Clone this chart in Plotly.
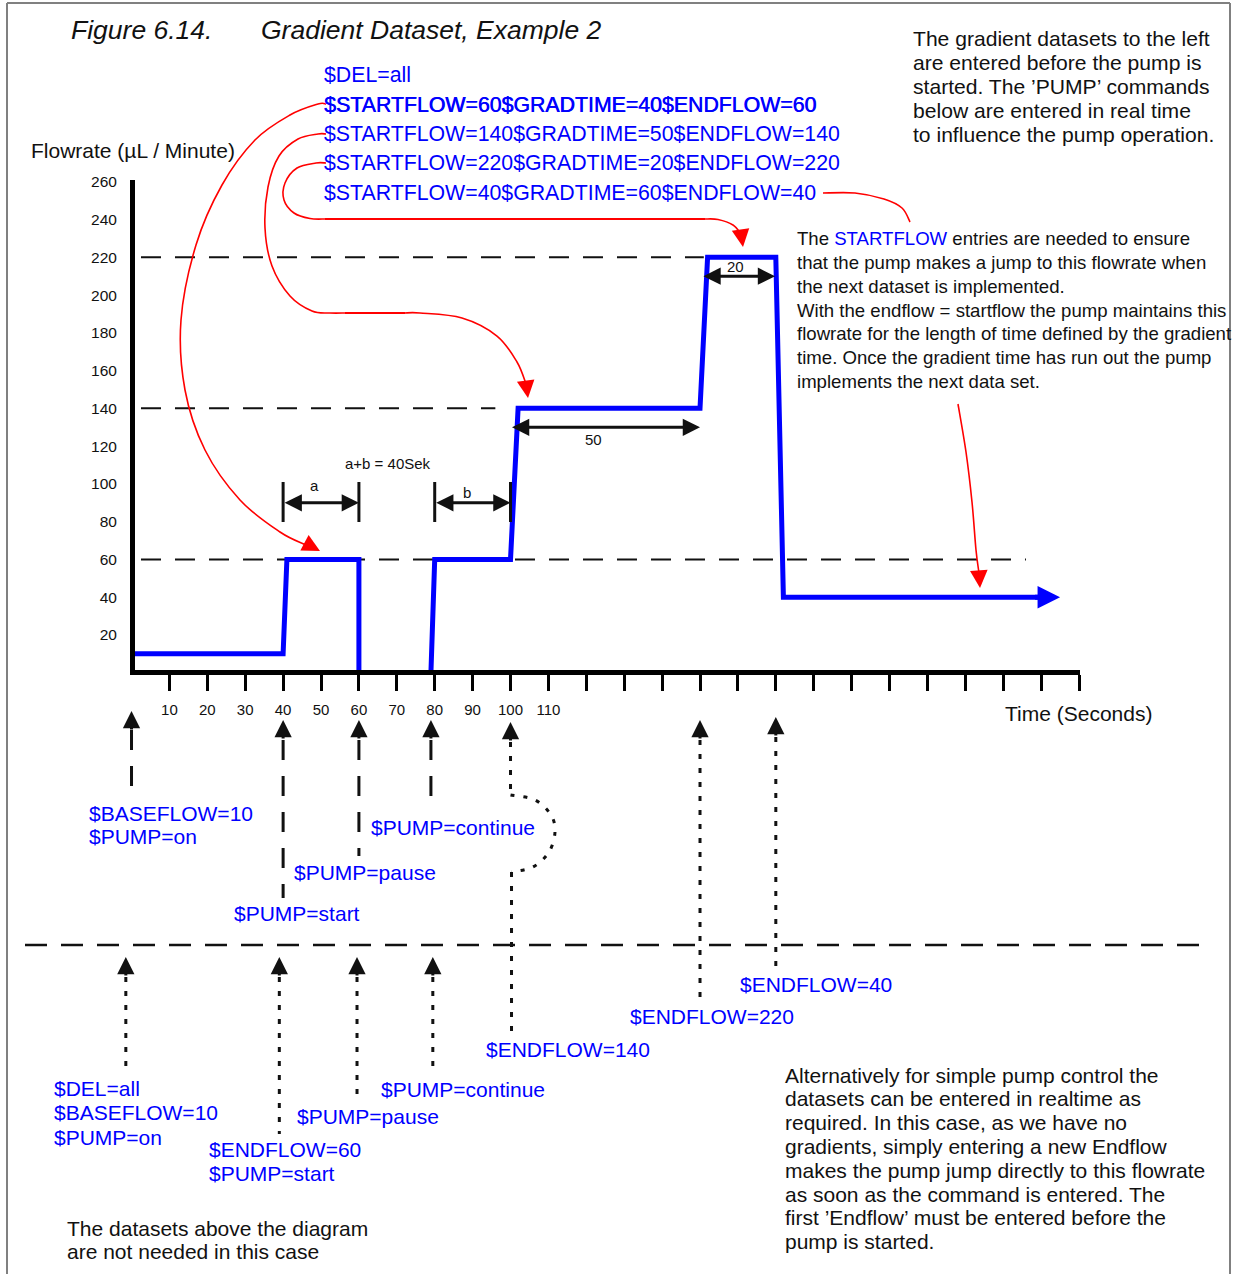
import plotly.graph_objects as go

# ---------------- data ----------------
flow_time = [0, 40, 41, 60, 60, None, 79, 80, 100, 102, 150, 152, 170, 172, 241]
flow_rate = [10, 10, 60, 60, 0, None, 0, 60, 60, 140, 140, 220, 220, 40, 40]
flow_arrow_tip = 245

ref_levels = [220, 140, 60]
ref_from = [2.5, 2.5, 2.5]
ref_to = [151, 96, 236]

y_tick_vals = [20, 40, 60, 80, 100, 120, 140, 160, 180, 200, 220, 240, 260]
x_tick_vals = list(range(10, 260, 10))
x_tick_text = [str(v) if v <= 110 else "" for v in x_tick_vals]

dim_from = [40, 80, 100, 150.5]
dim_to = [60, 100, 150, 169.8]
dim_level = [90, 90, 130, 210]
dim_text = ["a", "b", "50", "20"]
dim_text_x = [48.4, 88.5, 121.8, 159.4]
dim_text_y = [98.9, 95.2, 123.3, 215]
bar_times = [40, 60, 80, 100]
bar_low, bar_high = 79.8, 101
sum_text = "a+b = 40Sek"

top_commands = ["$DEL=all",
                "$STARTFLOW=60$GRADTIME=40$ENDFLOW=60",
                "$STARTFLOW=140$GRADTIME=50$ENDFLOW=140",
                "$STARTFLOW=220$GRADTIME=20$ENDFLOW=220",
                "$STARTFLOW=40$GRADTIME=60$ENDFLOW=40"]

note_top = ["The gradient datasets to the left",
            "are entered before the pump is",
            "started. The ’PUMP’ commands",
            "below are entered in real time",
            "to influence the pump operation."]

note_mid = ["The <span style='color:#0000ff'>STARTFLOW</span> entries are needed to ensure",
            "that the pump makes a jump to this flowrate when",
            "the next dataset is implemented.",
            "With the endflow = startflow the pump maintains this",
            "flowrate for the length of time defined by the gradient",
            "time. Once the gradient time has run out the pump",
            "implements the next data set."]

note_bottom = ["Alternatively for simple pump control the",
               "datasets can be entered in realtime as",
               "required. In this case, as we have no",
               "gradients, simply entering a new Endflow",
               "makes the pump jump directly to this flowrate",
               "as soon as the command is entered. The",
               "first ’Endflow’ must be entered before the",
               "pump is started."]

note_left = ["The datasets above the diagram", "are not needed in this case"]

upper_event_t = [0, 40, 60, 79, 100, 150, 170]
lower_event_t = [-1.5, 39, 59.5, 79.5]

# ---------------- geometry ----------------
W, H = 1234, 1274
L, R, T, B = 135, 1080, 180, 670
X_RANGE = [0.92, 250.26]
Y_RANGE = [1.43, 260.95]
PW, PH = R - L, B - T

BLUE = "#0000ff"
RED = "#ff0000"
BLACK = "#111111"
FONT = "Arial, 'Liberation Sans', Helvetica, sans-serif"


def xp(px):
    return (px - L) / PW


def yp(py):
    return (B - py) / PH


def t2px(t):
    return L + (t - X_RANGE[0]) / (X_RANGE[1] - X_RANGE[0]) * PW


fig = go.Figure()

fig.add_trace(go.Scatter(x=flow_time, y=flow_rate, mode="lines",
                         line=dict(color=BLUE, width=5), connectgaps=False,
                         hoverinfo="skip"))

shapes = []
annotations = []

# reference dashed lines
for lv, a, b in zip(ref_levels, ref_from, ref_to):
    shapes.append(dict(type="line", xref="x", yref="y", x0=a, x1=b, y0=lv, y1=lv,
                       line=dict(color=BLACK, width=2, dash="20px,14px"), layer="below"))

# dimension bars
for bt in bar_times:
    shapes.append(dict(type="line", xref="x", yref="y", x0=bt, x1=bt, y0=bar_low, y1=bar_high,
                       line=dict(color=BLACK, width=3)))

# dimension arrows
for a, b, lv, tx, xx, yy in zip(dim_from, dim_to, dim_level, dim_text, dim_text_x, dim_text_y):
    annotations.append(dict(x=b, y=lv, ax=a, ay=lv, xref="x", yref="y", axref="x", ayref="y",
                            showarrow=True, arrowhead=2, arrowside="end+start", arrowsize=1.15,
                            arrowwidth=3, arrowcolor=BLACK, text=""))
    annotations.append(dict(x=xx, y=yy, xref="x", yref="y", text=tx, showarrow=False,
                            font=dict(size=15, color=BLACK)))
annotations.append(dict(x=67.7, y=110.6, xref="x", yref="y", text=sum_text, showarrow=False,
                        font=dict(size=15, color=BLACK)))

# end arrow of the flow line
annotations.append(dict(x=flow_arrow_tip, y=flow_rate[-1], ax=flow_time[-1] - 3, ay=flow_rate[-1],
                        xref="x", yref="y", axref="x", ayref="y", showarrow=True,
                        arrowhead=2, arrowsize=0.9, arrowwidth=5, arrowcolor=BLUE, text=""))


def text(s, px, py, size=21, color=BLACK, shadow=None):
    f = dict(size=size, color=color, family=FONT)
    if shadow:
        f["shadow"] = shadow
    annotations.append(dict(x=xp(px), y=yp(py), xref="paper", yref="paper", text=s,
                            showarrow=False, xanchor="left", yanchor="middle", font=f))


def up_arrow(px, tip_py, length=20):
    annotations.append(dict(x=xp(px), y=yp(tip_py), xref="paper", yref="paper",
                            ax=0, ay=length, showarrow=True, arrowhead=2, arrowsize=1.15,
                            arrowwidth=3, arrowcolor=BLACK, text=""))


def red_head(px, py, dx, dy):
    annotations.append(dict(x=xp(px), y=yp(py), xref="paper", yref="paper",
                            ax=dx, ay=dy, showarrow=True, arrowhead=2, arrowsize=2.2,
                            arrowwidth=1.6, arrowcolor=RED, text=""))


def vline(px, py0, py1, dash, width=3):
    shapes.append(dict(type="line", xref="paper", yref="paper", x0=xp(px), x1=xp(px),
                       y0=yp(py0), y1=yp(py1), line=dict(color=BLACK, width=width, dash=dash)))


def smooth_path(pts):
    P = [(xp(a), yp(b)) for a, b in pts]
    d = "M%.5f,%.5f" % P[0]
    for i in range(len(P) - 1):
        p0 = P[i - 1] if i > 0 else P[i]
        p1, p2 = P[i], P[i + 1]
        p3 = P[i + 2] if i + 2 < len(P) else P[i + 1]
        c1 = (p1[0] + (p2[0] - p0[0]) / 6, p1[1] + (p2[1] - p0[1]) / 6)
        c2 = (p2[0] - (p3[0] - p1[0]) / 6, p2[1] - (p3[1] - p1[1]) / 6)
        d += " C%.5f,%.5f %.5f,%.5f %.5f,%.5f" % (c1 + c2 + p2)
    return d


def curve(pts, color=RED, width=1.6, dash="solid"):
    shapes.append(dict(type="path", xref="paper", yref="paper", path=smooth_path(pts),
                       line=dict(color=color, width=width, dash=dash)))


# frame
FRAME = "#808080"
shapes.append(dict(type="line", xref="paper", yref="paper", x0=xp(7), x1=xp(7), y0=yp(3), y1=yp(1280),
                   line=dict(color=FRAME, width=2)))
shapes.append(dict(type="line", xref="paper", yref="paper", x0=xp(7), x1=xp(1230), y0=yp(3), y1=yp(3),
                   line=dict(color=FRAME, width=2)))
shapes.append(dict(type="line", xref="paper", yref="paper", x0=xp(1230), x1=xp(1230), y0=yp(3), y1=yp(1280),
                   line=dict(color=FRAME, width=2)))

# titles and texts
text("<i>Figure 6.14.</i>", 69, 30, 26.5)
text("<i>Gradient Dataset, Example 2</i>", 259, 30, 26.5)
for i, (s, py) in enumerate(zip(top_commands, [75, 104.5, 134, 163.5, 193])):
    text(s, 322, py, 21.3, BLUE, shadow=("0.6px 0px 0px #0000ff" if i == 1 else None))
for s, py in zip(note_top, [38.5, 62.5, 87, 110.5, 134]):
    text(s, 911, py, 21.1)
text("Flowrate (µL / Minute)", 29, 151, 21)
for s, py in zip(note_mid, [238, 262, 286, 310, 333, 357, 381]):
    text(s, 795, py, 18.6)
text("Time (Seconds)", 1003, 713, 21)

# upper command labels
text("$BASEFLOW=10", 87, 813, 21, BLUE)
text("$PUMP=on", 87, 837, 21, BLUE)
text("$PUMP=continue", 369, 828, 21, BLUE)
text("$PUMP=pause", 292, 872, 21, BLUE)
text("$PUMP=start", 232, 913, 21, BLUE)

# lower command labels
text("$DEL=all", 52, 1088, 21, BLUE)
text("$BASEFLOW=10", 52, 1112, 21, BLUE)
text("$PUMP=on", 52, 1137, 21, BLUE)
text("$ENDFLOW=60", 207, 1149, 21, BLUE)
text("$PUMP=start", 207, 1173, 21, BLUE)
text("$PUMP=pause", 295, 1116, 21, BLUE)
text("$PUMP=continue", 379, 1089, 21, BLUE)
text("$ENDFLOW=140", 484, 1049, 21, BLUE)
text("$ENDFLOW=220", 628, 1016, 21, BLUE)
text("$ENDFLOW=40", 738, 984, 21, BLUE)
for s, py in zip(note_left, [1228, 1251]):
    text(s, 65, py, 21)
for s, py in zip(note_bottom, [1075, 1098.5, 1122, 1146, 1170, 1194, 1217.5, 1241.5]):
    text(s, 783, py, 21)

# upper event arrows and their leader lines
DASH = "20px,16px"
DOT = "5px,9px"
up_tips = [711, 720, 720, 720, 722, 720, 717]
for t, tip in zip(upper_event_t, up_tips):
    up_arrow(t2px(t), tip)
ux = [t2px(t) for t in upper_event_t]
vline(ux[0], 730, 788, DASH)
vline(ux[1], 740, 898, DASH)
vline(ux[2], 740, 856, DASH)
vline(ux[3], 740, 811, DASH)
vline(ux[4], 742, 795, DOT)
curve([(ux[4], 795), (535, 800), (551, 815), (555, 832), (549, 852), (533, 867), (ux[4] + 1, 872)],
      color=BLACK, width=3, dash="4px,9px")
vline(ux[4] + 1, 872, 1031, DOT)
vline(ux[5], 740, 1000, DOT)
vline(ux[6], 737, 968, DOT)

# long separator
shapes.append(dict(type="line", xref="paper", yref="paper", x0=xp(25), x1=xp(1199), y0=yp(945), y1=yp(945),
                   line=dict(color=BLACK, width=2.5, dash="22px,14px")))

# lower event arrows
lx = [t2px(t) for t in lower_event_t]
for x in lx:
    up_arrow(x, 957)
vline(lx[0], 977, 1075, DOT)
vline(lx[1], 977, 1134, DOT)
vline(lx[2], 977, 1094, DOT)
vline(lx[3], 977, 1068, DOT)

# red connector curves
curve([(326, 104), (318, 104), (290, 115), (255, 140), (222, 185), (196, 245), (181, 320),
       (185, 390), (205, 450), (240, 500), (280, 532), (306, 545)])
red_head(320, 551, -15, -8)
curve([(326, 134), (318, 134), (298, 139), (279, 156), (268, 187), (265, 228), (272, 266),
       (290, 296), (312, 311), (330, 313), (345, 313)])
shapes.append(dict(type="line", xref="paper", yref="paper", x0=xp(345), x1=xp(405), y0=yp(313), y1=yp(313),
                   line=dict(color=RED, width=1.8)))
curve([(405, 313), (420, 313), (462, 318), (497, 336), (517, 362), (526, 384)])
red_head(528, 398, -2, -15)
curve([(326, 163), (316, 163), (297, 168), (285, 183), (284, 200), (294, 213), (310, 218.5),
       (325, 219)])
shapes.append(dict(type="line", xref="paper", yref="paper", x0=xp(325), x1=xp(705), y0=yp(219), y1=yp(219),
                   line=dict(color=RED, width=1.8)))
curve([(705, 219), (718, 219.5), (733, 225), (741, 234)])
red_head(743, 247, -2, -14)
curve([(823, 193), (855, 193), (884, 199), (902, 208), (910, 222)])
curve([(958, 404), (966, 452), (972, 502), (976, 550), (979, 573)])
red_head(980, 588, -1, -15)

fig.update_layout(
    width=W, height=H,
    margin=dict(l=L, r=W - R, t=T, b=H - B, pad=0),
    paper_bgcolor="white", plot_bgcolor="white",
    showlegend=False,
    font=dict(family=FONT, color=BLACK),
    shapes=shapes,
    annotations=annotations,
    xaxis=dict(range=X_RANGE, showgrid=False, zeroline=False, showline=True,
               linecolor="black", linewidth=5, ticks="outside", ticklen=16, tickwidth=3,
               tickcolor="black", tickvals=x_tick_vals, ticktext=x_tick_text,
               tickfont=dict(size=15, color=BLACK), ticklabelstandoff=6, fixedrange=True),
    yaxis=dict(range=Y_RANGE, showgrid=False, zeroline=False, showline=True,
               linecolor="black", linewidth=5, ticks="", tickvals=y_tick_vals,
               tickfont=dict(size=15.5, color=BLACK), ticklabelstandoff=10, fixedrange=True),
)

fig.write_html("out.html", config={"displayModeBar": False},
               post_script="document.body.style.margin='0';")
